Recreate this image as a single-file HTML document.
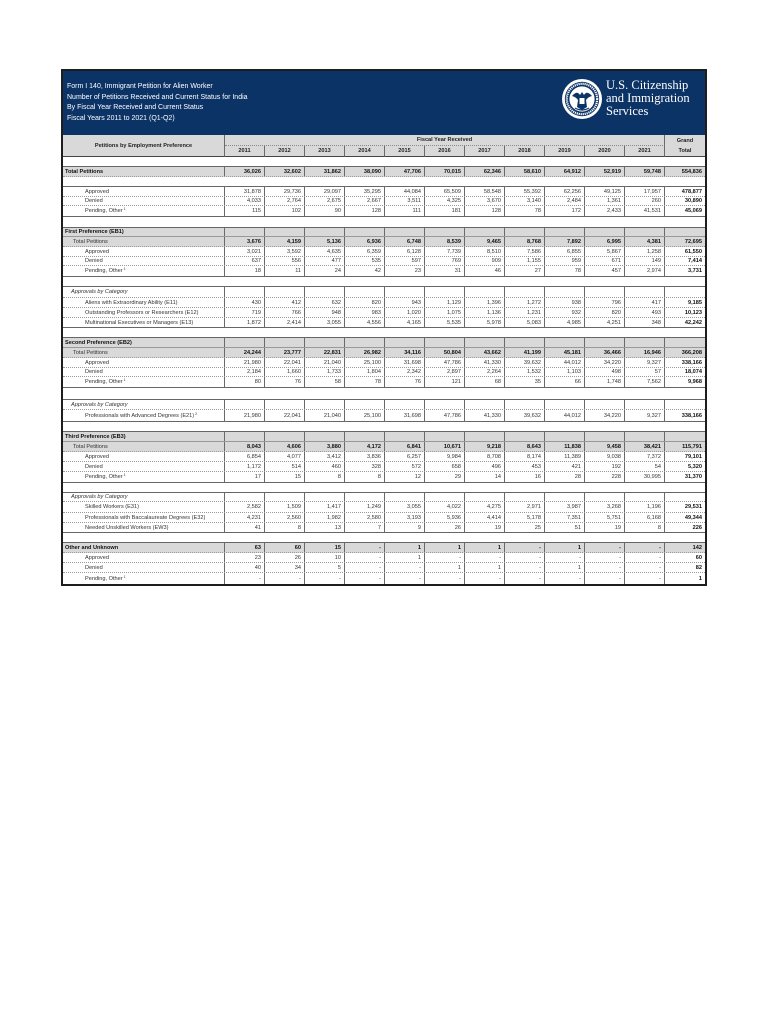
<!DOCTYPE html>
<html>
<head>
<meta charset="utf-8">
<style>
html,body{margin:0;padding:0;background:#fff;}
body{width:770px;height:1024px;position:relative;overflow:hidden;font-family:"Liberation Sans",Arial,sans-serif;}
.frame{position:absolute;left:61px;top:69px;width:642px;height:513px;border:2px solid #1e1e1e;}
.blue{position:absolute;left:63px;top:71px;width:642px;height:64px;background:#0c3366;}
.title{position:absolute;left:67px;top:82px;color:#fff;font-size:7px;line-height:10.6px;white-space:nowrap;}
.brand{position:absolute;left:606px;top:79px;color:#fff;font-family:"Liberation Serif",serif;font-size:12.5px;line-height:13px;white-space:nowrap;}
.h{position:absolute;background:#d9d9d9;box-sizing:border-box;font-size:5.6px;font-weight:bold;color:#222;display:flex;align-items:center;justify-content:center;text-align:center;white-space:nowrap;}
.r{position:absolute;left:63px;width:642px;display:flex;box-sizing:border-box;border-bottom:1px dotted #9a9a9a;font-size:5.6px;color:#333;}
.r span{width:40px;flex:none;box-sizing:border-box;border-right:1px solid #6a6a6a;padding-right:3px;white-space:nowrap;display:flex;align-items:center;justify-content:flex-end;}
.r span:first-child{width:162px;justify-content:flex-start;padding-right:0;}
.r span:last-child{border-right:none;font-weight:bold;color:#111;}
.g{background:#d9d9d9;}
.b span{font-weight:bold;color:#111;}
.bl span:first-child{font-weight:bold;color:#111;}
.e{border-bottom:1px solid #666;}
.k{position:absolute;left:63px;width:642px;box-sizing:border-box;border-bottom:1px solid #666;background:#fff;}
.it span:first-child{font-style:italic;}
sup{font-size:3.6px;position:relative;top:-2px;margin-left:1px;}
</style>
</head>
<body>
<div class="blue"></div>
<div class="frame"></div>
<div class="title">Form I 140, Immigrant Petition for Alien Worker<br>Number of Petitions Received and Current Status for India<br>By Fiscal Year Received and Current Status<br>Fiscal Years 2011 to 2021 (Q1-Q2)</div>

<svg style="position:absolute;left:561px;top:78px" width="42" height="42" viewBox="0 0 42 42">
<circle cx="21" cy="21" r="20" fill="#fff"/>
<circle cx="21" cy="21" r="17.2" fill="#0c3366"/>
<circle cx="21" cy="21" r="15.2" fill="none" stroke="#fff" stroke-width="2.2" stroke-dasharray="1.2 0.8"/>
<circle cx="21" cy="21" r="12.6" fill="#fff"/>
<path d="M11 18 Q16 12 19 17 L21 14 L23 17 Q26 12 31 18 Q27 19 25 22 L26 29 L21 32 L16 29 L17 22 Q15 19 11 18Z" fill="#0c3366"/>
<rect x="18.5" y="20" width="5" height="6" fill="#fff"/>
<path d="M14 30 Q21 34 28 30" stroke="#0c3366" stroke-width="1.2" fill="none"/>
</svg>
<div class="brand">U.S. Citizenship<br>and Immigration<br>Services</div>

<!-- column header -->
<div class="h" style="left:63px;top:135px;width:162px;height:22px;border-right:1px solid #6a6a6a;border-bottom:1px solid #444;">Petitions by Employment Preference</div>
<div class="h" style="left:225px;top:135px;width:440px;height:11px;border-right:1px solid #6a6a6a;border-bottom:1px dotted #888;">Fiscal Year Received</div>
<div class="h" style="left:225px;top:146px;width:40px;height:11px;border-right:1px solid #6a6a6a;border-bottom:1px solid #444;">2011</div>
<div class="h" style="left:265px;top:146px;width:40px;height:11px;border-right:1px solid #6a6a6a;border-bottom:1px solid #444;">2012</div>
<div class="h" style="left:305px;top:146px;width:40px;height:11px;border-right:1px solid #6a6a6a;border-bottom:1px solid #444;">2013</div>
<div class="h" style="left:345px;top:146px;width:40px;height:11px;border-right:1px solid #6a6a6a;border-bottom:1px solid #444;">2014</div>
<div class="h" style="left:385px;top:146px;width:40px;height:11px;border-right:1px solid #6a6a6a;border-bottom:1px solid #444;">2015</div>
<div class="h" style="left:425px;top:146px;width:40px;height:11px;border-right:1px solid #6a6a6a;border-bottom:1px solid #444;">2016</div>
<div class="h" style="left:465px;top:146px;width:40px;height:11px;border-right:1px solid #6a6a6a;border-bottom:1px solid #444;">2017</div>
<div class="h" style="left:505px;top:146px;width:40px;height:11px;border-right:1px solid #6a6a6a;border-bottom:1px solid #444;">2018</div>
<div class="h" style="left:545px;top:146px;width:40px;height:11px;border-right:1px solid #6a6a6a;border-bottom:1px solid #444;">2019</div>
<div class="h" style="left:585px;top:146px;width:40px;height:11px;border-right:1px solid #6a6a6a;border-bottom:1px solid #444;">2020</div>
<div class="h" style="left:625px;top:146px;width:40px;height:11px;border-right:1px solid #6a6a6a;border-bottom:1px solid #444;">2021</div>
<div class="h" style="left:665px;top:135px;width:40px;height:22px;border-bottom:1px solid #444;line-height:10px;">Grand<br>Total</div>
<div class="k" style="top:157px;height:10px;"></div>

<!-- Total Petitions -->
<div class="r g b" style="top:167px;height:10px;"><span style="padding-left:2px">Total Petitions</span><span>36,026</span><span>32,602</span><span>31,862</span><span>38,090</span><span>47,706</span><span>70,015</span><span>62,346</span><span>58,610</span><span>64,912</span><span>52,919</span><span>59,748</span><span>554,836</span></div>
<div class="k" style="top:177px;height:10px;"></div>
<div class="r" style="top:187px;height:10px;"><span style="padding-left:22px">Approved</span><span>31,878</span><span>29,736</span><span>29,097</span><span>35,295</span><span>44,084</span><span>65,509</span><span>58,548</span><span>55,392</span><span>62,256</span><span>49,125</span><span>17,957</span><span>478,877</span></div>
<div class="r" style="top:197px;height:9px;"><span style="padding-left:22px">Denied</span><span>4,033</span><span>2,764</span><span>2,675</span><span>2,667</span><span>3,511</span><span>4,325</span><span>3,670</span><span>3,140</span><span>2,484</span><span>1,361</span><span>260</span><span>30,890</span></div>
<div class="r e" style="top:206px;height:11px;"><span style="padding-left:22px">Pending, Other<sup>1</sup></span><span>115</span><span>102</span><span>90</span><span>128</span><span>111</span><span>181</span><span>128</span><span>78</span><span>172</span><span>2,433</span><span>41,531</span><span>45,069</span></div>
<div class="k" style="top:217px;height:11px;"></div>

<!-- EB1 -->
<div class="r g bl" style="top:228px;height:9px;border-bottom:1px solid #999;"><span style="padding-left:2px">First Preference (EB1)</span><span></span><span></span><span></span><span></span><span></span><span></span><span></span><span></span><span></span><span></span><span></span><span></span></div>
<div class="r g b" style="top:237px;height:10px;"><span style="padding-left:10px;font-weight:normal;color:#333">Total Petitions</span><span>3,676</span><span>4,159</span><span>5,136</span><span>6,936</span><span>6,748</span><span>8,539</span><span>9,465</span><span>8,768</span><span>7,892</span><span>6,995</span><span>4,381</span><span>72,695</span></div>
<div class="r" style="top:247px;height:10px;"><span style="padding-left:22px">Approved</span><span>3,021</span><span>3,592</span><span>4,635</span><span>6,359</span><span>6,128</span><span>7,739</span><span>8,510</span><span>7,586</span><span>6,855</span><span>5,867</span><span>1,258</span><span>61,550</span></div>
<div class="r" style="top:257px;height:9px;"><span style="padding-left:22px">Denied</span><span>637</span><span>556</span><span>477</span><span>535</span><span>597</span><span>769</span><span>909</span><span>1,155</span><span>959</span><span>671</span><span>149</span><span>7,414</span></div>
<div class="r e" style="top:266px;height:11px;"><span style="padding-left:22px">Pending, Other<sup>1</sup></span><span>18</span><span>11</span><span>24</span><span>42</span><span>23</span><span>31</span><span>46</span><span>27</span><span>78</span><span>457</span><span>2,974</span><span>3,731</span></div>
<div class="k" style="top:277px;height:10px;"></div>
<div class="r it" style="top:287px;height:11px;"><span style="padding-left:8px">Approvals by Category</span><span></span><span></span><span></span><span></span><span></span><span></span><span></span><span></span><span></span><span></span><span></span><span></span></div>
<div class="r" style="top:298px;height:10px;"><span style="padding-left:22px">Aliens with Extraordinary Ability (E11)</span><span>430</span><span>412</span><span>632</span><span>820</span><span>943</span><span>1,129</span><span>1,396</span><span>1,272</span><span>938</span><span>796</span><span>417</span><span>9,185</span></div>
<div class="r" style="top:308px;height:10px;"><span style="padding-left:22px">Outstanding Professors or Researchers (E12)</span><span>719</span><span>766</span><span>948</span><span>983</span><span>1,020</span><span>1,075</span><span>1,136</span><span>1,231</span><span>932</span><span>820</span><span>493</span><span>10,123</span></div>
<div class="r e" style="top:318px;height:10px;"><span style="padding-left:22px">Multinational Executives or Managers (E13)</span><span>1,872</span><span>2,414</span><span>3,055</span><span>4,556</span><span>4,165</span><span>5,535</span><span>5,978</span><span>5,083</span><span>4,985</span><span>4,251</span><span>348</span><span>42,242</span></div>
<div class="k" style="top:328px;height:10px;"></div>

<!-- EB2 -->
<div class="r g bl" style="top:338px;height:10px;border-bottom:1px solid #999;"><span style="padding-left:2px">Second Preference (EB2)</span><span></span><span></span><span></span><span></span><span></span><span></span><span></span><span></span><span></span><span></span><span></span><span></span></div>
<div class="r g b" style="top:348px;height:10px;"><span style="padding-left:10px;font-weight:normal;color:#333">Total Petitions</span><span>24,244</span><span>23,777</span><span>22,831</span><span>26,982</span><span>34,116</span><span>50,804</span><span>43,662</span><span>41,199</span><span>45,181</span><span>36,466</span><span>16,946</span><span>366,208</span></div>
<div class="r" style="top:358px;height:10px;"><span style="padding-left:22px">Approved</span><span>21,980</span><span>22,041</span><span>21,040</span><span>25,100</span><span>31,698</span><span>47,786</span><span>41,330</span><span>39,632</span><span>44,012</span><span>34,220</span><span>9,327</span><span>338,166</span></div>
<div class="r" style="top:368px;height:9px;"><span style="padding-left:22px">Denied</span><span>2,184</span><span>1,660</span><span>1,733</span><span>1,804</span><span>2,342</span><span>2,897</span><span>2,264</span><span>1,532</span><span>1,103</span><span>498</span><span>57</span><span>18,074</span></div>
<div class="r e" style="top:377px;height:11px;"><span style="padding-left:22px">Pending, Other<sup>1</sup></span><span>80</span><span>76</span><span>58</span><span>78</span><span>76</span><span>121</span><span>68</span><span>35</span><span>66</span><span>1,748</span><span>7,562</span><span>9,968</span></div>
<div class="k" style="top:388px;height:12px;"></div>
<div class="r it" style="top:400px;height:10px;"><span style="padding-left:8px">Approvals by Category</span><span></span><span></span><span></span><span></span><span></span><span></span><span></span><span></span><span></span><span></span><span></span><span></span></div>
<div class="r e" style="top:410px;height:12px;"><span style="padding-left:22px">Professionals with Advanced Degrees (E21)<sup>2</sup></span><span>21,980</span><span>22,041</span><span>21,040</span><span>25,100</span><span>31,698</span><span>47,786</span><span>41,330</span><span>39,632</span><span>44,012</span><span>34,220</span><span>9,327</span><span>338,166</span></div>
<div class="k" style="top:422px;height:10px;"></div>

<!-- EB3 -->
<div class="r g bl" style="top:432px;height:10px;border-bottom:1px solid #999;"><span style="padding-left:2px">Third Preference (EB3)</span><span></span><span></span><span></span><span></span><span></span><span></span><span></span><span></span><span></span><span></span><span></span><span></span></div>
<div class="r g b" style="top:442px;height:10px;"><span style="padding-left:10px;font-weight:normal;color:#333">Total Petitions</span><span>8,043</span><span>4,606</span><span>3,880</span><span>4,172</span><span>6,841</span><span>10,671</span><span>9,218</span><span>8,643</span><span>11,838</span><span>9,458</span><span>38,421</span><span>115,791</span></div>
<div class="r" style="top:452px;height:10px;"><span style="padding-left:22px">Approved</span><span>6,854</span><span>4,077</span><span>3,412</span><span>3,836</span><span>6,257</span><span>9,984</span><span>8,708</span><span>8,174</span><span>11,389</span><span>9,038</span><span>7,372</span><span>79,101</span></div>
<div class="r" style="top:462px;height:10px;"><span style="padding-left:22px">Denied</span><span>1,172</span><span>514</span><span>460</span><span>328</span><span>572</span><span>658</span><span>496</span><span>453</span><span>421</span><span>192</span><span>54</span><span>5,320</span></div>
<div class="r e" style="top:472px;height:11px;"><span style="padding-left:22px">Pending, Other<sup>1</sup></span><span>17</span><span>15</span><span>8</span><span>8</span><span>12</span><span>29</span><span>14</span><span>16</span><span>28</span><span>228</span><span>30,995</span><span>31,370</span></div>
<div class="k" style="top:483px;height:10px;"></div>
<div class="r it" style="top:493px;height:9px;"><span style="padding-left:8px">Approvals by Category</span><span></span><span></span><span></span><span></span><span></span><span></span><span></span><span></span><span></span><span></span><span></span><span></span></div>
<div class="r" style="top:502px;height:11px;"><span style="padding-left:22px">Skilled Workers (E31)</span><span>2,582</span><span>1,509</span><span>1,417</span><span>1,249</span><span>3,055</span><span>4,022</span><span>4,275</span><span>2,971</span><span>3,987</span><span>3,268</span><span>1,196</span><span>29,531</span></div>
<div class="r" style="top:513px;height:10px;"><span style="padding-left:22px">Professionals with Baccalaureate Degrees (E32)</span><span>4,231</span><span>2,560</span><span>1,982</span><span>2,580</span><span>3,193</span><span>5,936</span><span>4,414</span><span>5,178</span><span>7,351</span><span>5,751</span><span>6,168</span><span>49,344</span></div>
<div class="r e" style="top:523px;height:10px;"><span style="padding-left:22px">Needed Unskilled Workers (EW3)</span><span>41</span><span>8</span><span>13</span><span>7</span><span>9</span><span>26</span><span>19</span><span>25</span><span>51</span><span>19</span><span>8</span><span>226</span></div>
<div class="k" style="top:533px;height:10px;"></div>

<!-- Other -->
<div class="r g b" style="top:543px;height:10px;"><span style="padding-left:2px">Other and Unknown</span><span>63</span><span>60</span><span>15</span><span>-</span><span>1</span><span>1</span><span>1</span><span>-</span><span>1</span><span>-</span><span>-</span><span>142</span></div>
<div class="r" style="top:553px;height:10px;"><span style="padding-left:22px">Approved</span><span>23</span><span>26</span><span>10</span><span>-</span><span>1</span><span>-</span><span>-</span><span>-</span><span>-</span><span>-</span><span>-</span><span>60</span></div>
<div class="r" style="top:563px;height:10px;"><span style="padding-left:22px">Denied</span><span>40</span><span>34</span><span>5</span><span>-</span><span>-</span><span>1</span><span>1</span><span>-</span><span>1</span><span>-</span><span>-</span><span>82</span></div>
<div class="r" style="top:573px;height:11px;border-bottom:none;"><span style="padding-left:22px">Pending, Other<sup>1</sup></span><span>-</span><span>-</span><span>-</span><span>-</span><span>-</span><span>-</span><span>-</span><span>-</span><span>-</span><span>-</span><span>-</span><span>1</span></div>
</body>
</html>
